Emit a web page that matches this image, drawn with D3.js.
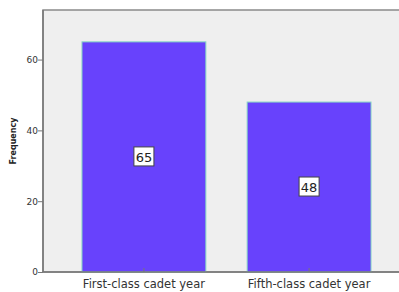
<!DOCTYPE html>
<html>
<head>
<meta charset="utf-8">
<script src="https://cdn.jsdelivr.net/npm/d3@7"></script>
<style>
  body { margin: 0; background: #fff; }
  text { font-family: "DejaVu Sans", sans-serif; }
</style>
</head>
<body>
<div id="chart"></div>
<script>
// data
var categories = ["First-class cadet year", "Fifth-class cadet year"];
var frequencies = [65, 48];
var yTicks = [0, 20, 40, 60];

var width = 399, height = 292;
var mLeft = 43, mTop = 10, mBottom = 272, mRight = 410;

var svg = d3.select("#chart").append("svg")
    .attr("width", width)
    .attr("height", height);

var y = d3.scaleLinear().domain([0, 74]).range([mBottom, mTop]);
var x = d3.scaleBand().domain(categories).range([mLeft, mRight])
    .paddingInner(0.25).paddingOuter(0.236);

// plot background
svg.append("rect")
    .attr("x", mLeft).attr("y", mTop)
    .attr("width", mRight - mLeft).attr("height", mBottom - mTop)
    .style("fill", "#efefef")
    .style("stroke", "#8a8a8a")
    .style("stroke-width", 1.5);

// bars
svg.selectAll("rect.bar")
    .data(frequencies)
  .enter().append("rect")
    .attr("class", "bar")
    .attr("x", function(d, i) { return x(categories[i]); })
    .attr("y", function(d) { return y(d); })
    .attr("width", x.bandwidth())
    .attr("height", function(d) { return y(0) - y(d); })
    .style("fill", "#6842fc")
    .style("stroke", "#86d6c4")
    .style("stroke-width", 1);

// value labels
var lab = svg.selectAll("g.lab")
    .data(frequencies)
  .enter().append("g")
    .attr("class", "lab")
    .attr("transform", function(d, i) {
      return "translate(" + (x(categories[i]) + x.bandwidth() / 2) + "," + y(d / 2) + ")";
    });
lab.append("rect")
    .attr("x", -10).attr("y", -10)
    .attr("width", 20).attr("height", 19)
    .style("fill", "#fff")
    .style("stroke", "#444")
    .style("stroke-width", 1);
lab.append("text")
    .attr("text-anchor", "middle")
    .attr("dy", "0.36em")
    .style("font-size", "13px")
    .style("fill", "#222")
    .text(function(d) { return d; });

// y axis
var yAxis = svg.append("g")
    .attr("transform", "translate(" + mLeft + ",0)")
    .call(d3.axisLeft(y).tickValues(yTicks).tickSize(5).tickSizeOuter(0));
yAxis.select(".domain").remove();
yAxis.selectAll("line").style("stroke", "#777");
yAxis.selectAll("text")
    .attr("x", -5)
    .style("font-size", "9px")
    .style("fill", "#333")
    .style("font-family", "DejaVu Sans, sans-serif");

svg.append("line")
    .attr("x1", mLeft).attr("x2", mLeft)
    .attr("y1", mTop).attr("y2", mBottom)
    .style("stroke", "#777").style("stroke-width", 1.5);

// x axis
var xAxis = svg.append("g")
    .attr("transform", "translate(0," + mBottom + ")")
    .call(d3.axisBottom(x).tickSize(4).tickSizeOuter(0));
xAxis.select(".domain").remove();
xAxis.selectAll("line").attr("y1", -4).attr("y2", 0).style("stroke", "#777");
xAxis.selectAll("text")
    .attr("y", 8)
    .style("font-size", "11.5px")
    .style("fill", "#333")
    .style("font-family", "DejaVu Sans, sans-serif");

svg.append("line")
    .attr("x1", mLeft).attr("x2", mRight)
    .attr("y1", mBottom).attr("y2", mBottom)
    .style("stroke", "#777").style("stroke-width", 1.5);

// y title
svg.append("text")
    .attr("transform", "translate(16," + ((mTop + mBottom) / 2) + ") rotate(-90)")
    .attr("text-anchor", "middle")
    .style("font-size", "8px")
    .style("font-weight", "bold")
    .style("fill", "#222")
    .text("Frequency");
</script>
</body>
</html>
